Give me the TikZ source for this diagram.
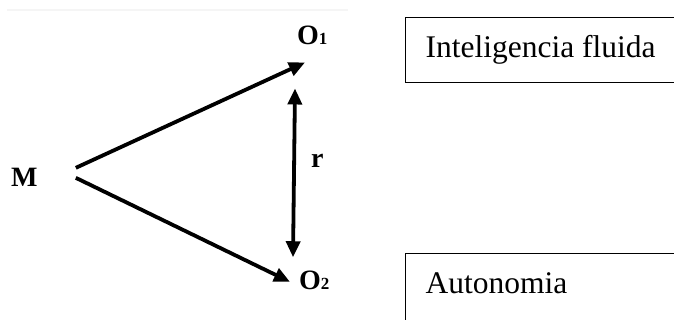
\documentclass[tikz,border=0pt]{standalone}
\usepackage{fontspec}
\setmainfont{Liberation Serif}
\usepackage{xcolor}
\usetikzlibrary{arrows.meta, positioning}
\newcommand{\grande}{\fontsize{28}{28}\selectfont\bfseries}
\newcommand{\indice}[1]{{\fontsize{17}{17}\selectfont #1}}

\begin{document}
\begin{tikzpicture}[x=1pt, y=1pt,
  etiqueta/.style={inner sep=0pt, anchor=base west},
  flecha/.style={line width=3.8pt, -{Triangle[length=16pt, width=14pt]}},
  doble/.style={line width=3.8pt, {Triangle[length=16pt, width=14pt]}-{Triangle[length=16pt, width=14pt]}},
  caja/.style={draw, line width=1.3pt, anchor=north west, inner xsep=20pt, inner ysep=18pt,
    text width=260pt, align=flush left, text height=22pt, font=\fontsize{31.5}{36}\selectfont}]
  \useasboundingbox (0,0) rectangle (674,320);
  \clip (0,0) rectangle (674,320);
  \draw[gray!8, line width=2pt] (7,310) -- (348,310);

  \node[etiqueta] (M) at (11,133) {\grande M};
  \node[etiqueta] (O1) at (297,275) {\grande O\indice{1}};
  \node[etiqueta] (O2) at (299,30) {\grande O\indice{2}};
  \node[etiqueta] (r) at (311,152) {\grande r};

  \node[caja, text depth=7pt] (fluida) at (405,303) {Inteligencia fluida};
  \node[caja, text depth=30pt] (autonomia) at (405,67) {Autonomia};

  \draw[flecha] ([shift={(38,10)}]M.east) -- ([shift={(8,-17)}]O1.south west);
  \draw[flecha] ([shift={(38,0)}]M.east) -- ([shift={(-9,-1)}]O2.west);
  \draw[doble] ([shift={(-2,-43)}]O1.south west) -- ([shift={(-6,14)}]O2.north west);
\end{tikzpicture}
\end{document}
